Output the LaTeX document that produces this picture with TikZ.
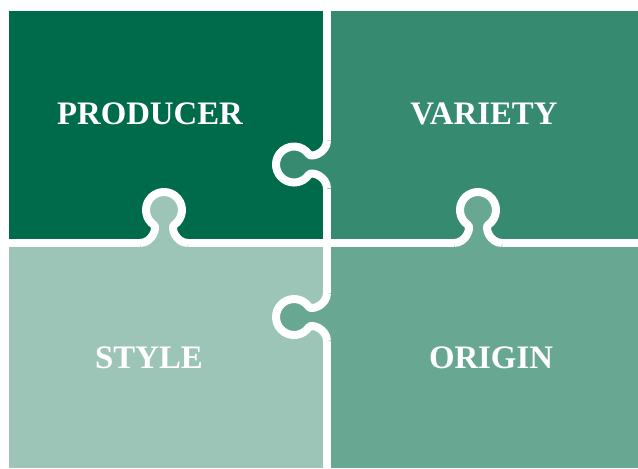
\documentclass[tikz,border=0pt]{standalone}
\usepackage{fontspec}
\setmainfont{Liberation Serif}
\usetikzlibrary{positioning}

\definecolor{producerC}{RGB}{0,107,74}
\definecolor{varietyC}{RGB}{53,138,112}
\definecolor{styleC}{RGB}{157,197,183}
\definecolor{originC}{RGB}{104,168,147}

\begin{document}
\begin{tikzpicture}[
    x=0.5pt, y=0.5pt,
    piecetext/.style={text=white, font=\bfseries\fontsize{16.4}{19}\selectfont},
    gap/.style={white, line width=4pt},
    knobedge/.style={insert path={(-24,0) .. controls (-12,0) and (-6.2,15.4) .. (-10.32,18.25)
        arc[start angle=235, end angle=-55, radius=18]
        .. controls (6.2,15.4) and (12,0) .. (24,0)}}
  ]
    \useasboundingbox (0,0) rectangle (638,468);

    % the four pieces
    \fill[producerC] (9,225) rectangle (327,457);
    \fill[varietyC] (327,225) rectangle (638,457);
    \fill[styleC] (9,0) rectangle (327,225);
    \fill[originC] (327,0) rectangle (638,225);

    % cuts between them
    \draw[gap] (327,0) -- (327,457);
    \draw[gap] (9,225) -- (638,225);

    % knobs: x/y of the base, turn, colour of the piece they belong to
    \foreach \x/\y/\r/\c in {327/303.5/90/varietyC, 164/225/0/styleC,
                             478/225/0/originC, 327/151/90/originC} {
      \begin{scope}[shift={(\x,\y)}, rotate=\r]
        \fill[\c] [knobedge] -- (24,-6) -- (-24,-6) -- cycle;
        \draw[gap] [knobedge];
      \end{scope}
    }

    \node[piecetext] (producer) at (150,354) {PRODUCER};
    \node[piecetext] (variety) at (484,354) {VARIETY};
    \node[piecetext] (style) at (149,110) {STYLE};
    \node[piecetext] (origin) at (491,110) {ORIGIN};
  \end{tikzpicture}
\end{document}
